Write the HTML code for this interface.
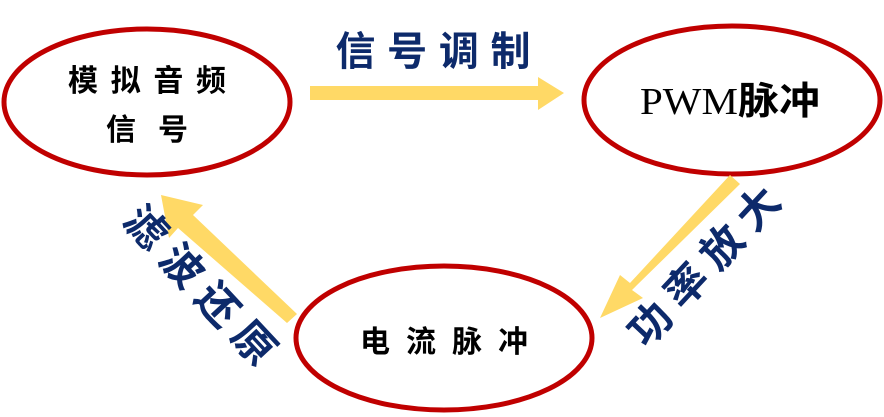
<!DOCTYPE html>
<html><head><meta charset="utf-8"><style>
html,body{margin:0;padding:0;background:#fff;}
svg{display:block;}
</style></head><body>
<svg width="884" height="417" viewBox="0 0 884 417" xmlns="http://www.w3.org/2000/svg" style="font-family:'Liberation Sans','Noto Sans CJK SC',sans-serif">
<g fill="none" stroke="#c00000" stroke-width="5">
<ellipse cx="147" cy="102" rx="143" ry="73"/>
<ellipse cx="732" cy="100" rx="148" ry="74"/>
<ellipse cx="444" cy="338" rx="148" ry="72"/>
</g>
<g fill="#ffd966">
<polygon points="310,86 538,86 538,77 564,93 538,110 538,100 310,100"/>
<polygon points="740,184 730,175 630,283 620,275 600,318 643,298 632,290"/>
<polygon points="297,314 287,323 178,228 169,238 161,195 203,205 193,215"/>
</g>
<g fill="#000" font-weight="bold">
<text x="147" y="91" font-size="30" text-anchor="middle" textLength="158" lengthAdjust="spacing">模拟音频</text>
<text x="147" y="140" font-size="30" text-anchor="middle" textLength="82" lengthAdjust="spacing">信号</text>
<text x="730" y="114" font-size="38" text-anchor="middle" textLength="180" lengthAdjust="spacingAndGlyphs" style="font-family:'Liberation Serif','Noto Serif CJK SC',serif;font-weight:normal">PWM<tspan style="font-family:'Noto Sans CJK SC',sans-serif;font-weight:bold">脉冲</tspan></text>
<text x="444" y="352" font-size="30" text-anchor="middle" textLength="168" lengthAdjust="spacing">电流脉冲</text>
</g>
<g fill="#0d2a6b" font-weight="bold">
<text x="433" y="65" font-size="40" text-anchor="middle" textLength="195" lengthAdjust="spacing">信号调制</text>
<text transform="translate(704,266) rotate(-47)" font-size="42" text-anchor="middle" y="15" textLength="200" lengthAdjust="spacing">功率放大</text>
<text transform="translate(200,285) rotate(47)" font-size="42" text-anchor="middle" y="15" textLength="200" lengthAdjust="spacing">滤波还原</text>
</g>
</svg>
</body></html>
